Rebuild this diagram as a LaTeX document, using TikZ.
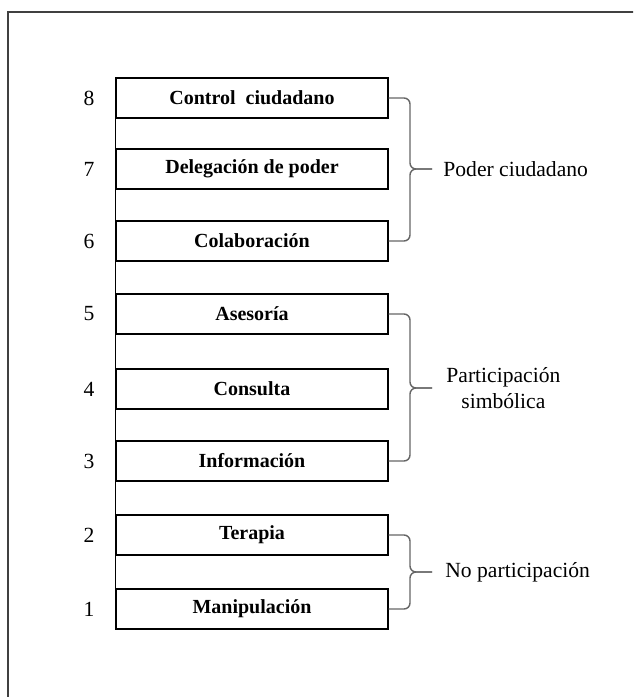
\documentclass[tikz,border=0pt]{standalone}
\usepackage{fontspec}
\setmainfont{Liberation Serif}
\usepackage{tikz}
\usetikzlibrary{positioning}

\tikzset{
    rung/.style={draw,
        minimum width=136pt,
        minimum height=20pt,
        line width=0.6pt,
        font=\bfseries,
    },
    bracket/.style={draw=black!60, line width=0.7pt, rounded corners=3pt},
    group/.style={inner sep=0pt, align=center},
}

\begin{document}
\begin{tikzpicture}[x=0.5pt, y=-0.5pt, font=\fontsize{10.8}{13}\selectfont]
    \path[use as bounding box, clip] (0,0) rectangle (633,697);

    % frame (open at right and bottom)
    \draw[black!75, line width=0.9pt] (8,12) rectangle (660,720);

    % rungs of the ladder
    \node [rung] (r8) at (252,98) {Control\ \ ciudadano};
    \node [rung] (r7) at (252,169) {Delegación de poder};
    \node [rung] (r6) at (252,241) {Colaboración};
    \node [rung] (r5) at (252,314) {Asesoría};
    \node [rung] (r4) at (252,389) {Consulta};
    \node [rung] (r3) at (252,461) {Información};
    \node [rung] (r2) at (252,535) {Terapia};
    \node [rung] (r1) at (252,609) {Manipulación};

    % rail
    \draw[line width=0.6pt] (r8.south west) -- (r1.north west);

    % step numbers
    \foreach \k in {1,...,8}
        \node (n\k) at ([xshift=-81.5pt]r\k.center) {\k};

    % Poder ciudadano
    \coordinate (t1) at (432,169);
    \draw[bracket] (r8.east) -- (410,98) -- (410,169) -- (t1);
    \draw[bracket] (r6.east) -- (410,241) -- (410,169) -- (t1);
    \node [group, right=5.5pt of t1] (g1) {Poder ciudadano};

    % Participacion simbolica
    \coordinate (t2) at (432,388);
    \draw[bracket] (r5.east) -- (410,314) -- (410,388) -- (t2);
    \draw[bracket] (r3.east) -- (410,461) -- (410,388) -- (t2);
    \node [group, right=7pt of t2] (g2) {Participación\\simbólica};

    % No participacion
    \coordinate (t3) at (432,572);
    \draw[bracket] (r2.east) -- (410,535) -- (410,572) -- (t3);
    \draw[bracket] (r1.east) -- (410,609) -- (410,572) -- (t3);
    \node [group, right=6.5pt of t3] (g3) {No participación};
\end{tikzpicture}
\end{document}
